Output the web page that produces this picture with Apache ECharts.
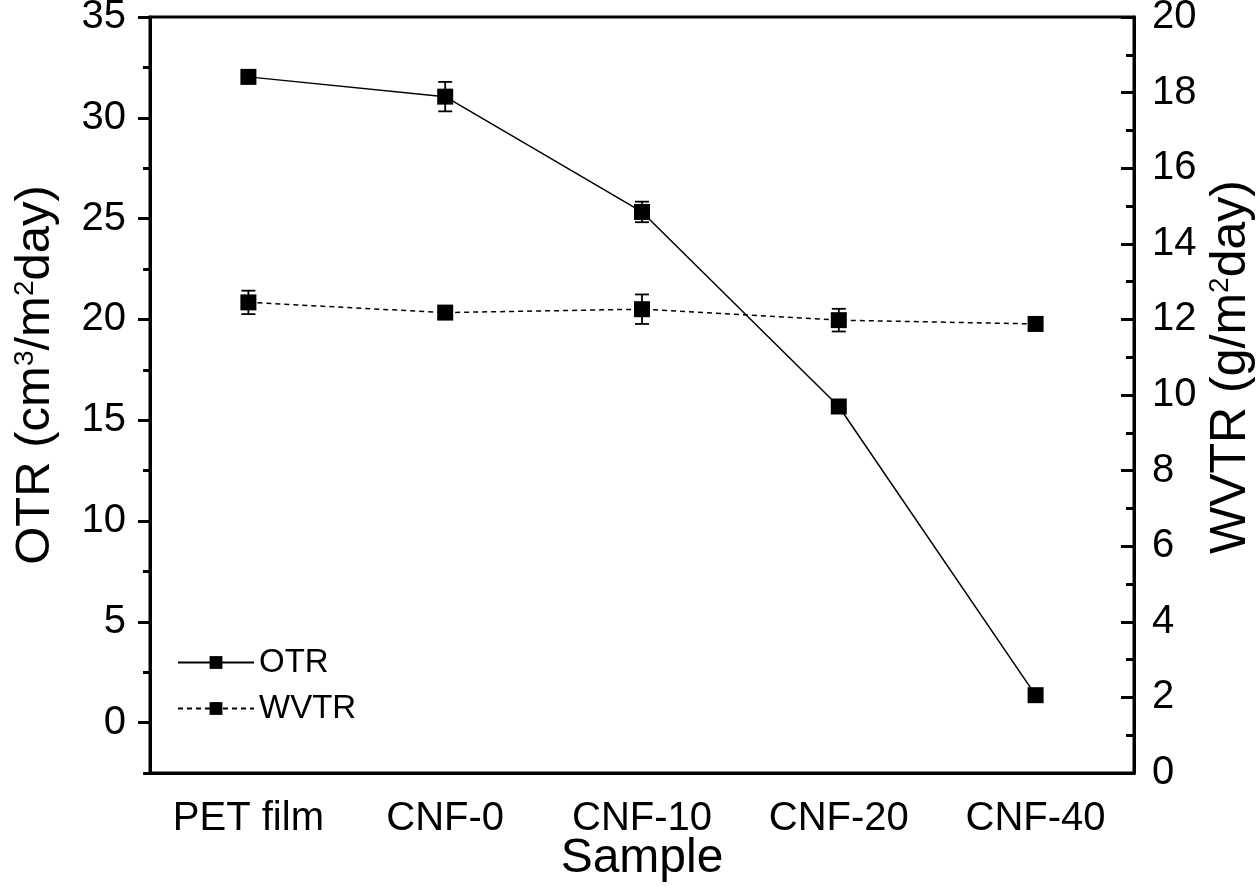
<!DOCTYPE html>
<html>
<head>
<meta charset="utf-8">
<script src="https://cdn.jsdelivr.net/npm/echarts@6/dist/echarts.min.js"></script>
<style>html,body{margin:0;padding:0;background:#fff}#c{width:1257px;height:886px}</style>
</head>
<body>
<div id="c"></div>
<script>
var categories = ['PET film', 'CNF-0', 'CNF-10', 'CNF-20', 'CNF-40'];
var otr = [32.03, 31.05, 25.33, 15.68, 1.36];
var otrErr = [0.1, 0.73, 0.51, 0.1, 0.1];
var wvtr = [12.45, 12.18, 12.27, 11.98, 11.88];
var wvtrErr = [0.31, 0.05, 0.39, 0.30, 0.05];
var leftMajor = [0, 5, 10, 15, 20, 25, 30, 35];
var leftMinor = [-2.5, 2.5, 7.5, 12.5, 17.5, 22.5, 27.5, 32.5];

var FONT = 'Liberation Sans, Arial, sans-serif';
var chart = echarts.init(document.getElementById('c'));

function errData(vals, errs) {
  return vals.map(function (v, i) { return [i, v - errs[i], v + errs[i]]; });
}
function errRender(params, api) {
  var x = api.value(0);
  var lo = api.coord([x, api.value(1)]);
  var hi = api.coord([x, api.value(2)]);
  var hw = 7;
  var st = { stroke: '#000', lineWidth: 1.8 };
  return { type: 'group', children: [
    { type: 'line', shape: { x1: lo[0], y1: lo[1], x2: hi[0], y2: hi[1] }, style: st },
    { type: 'line', shape: { x1: lo[0] - hw, y1: lo[1], x2: lo[0] + hw, y2: lo[1] }, style: st },
    { type: 'line', shape: { x1: hi[0] - hw, y1: hi[1], x2: hi[0] + hw, y2: hi[1] }, style: st }
  ]};
}
var nameRich = {
  sup: { fontFamily: FONT, fontSize: 28, color: '#000', verticalAlign: 'top', lineHeight: 14 }
};

chart.setOption({
  backgroundColor: '#fff',
  animation: false,
  grid: { left: 150, right: 123, top: 17, bottom: 113, outerBoundsMode: 'none', containLabel: false, show: true, borderColor: '#000', borderWidth: 3, backgroundColor: 'transparent' },
  legend: {
    orient: 'vertical', left: 172, top: 641, itemWidth: 76, itemHeight: 16, itemGap: 13,
    textStyle: { fontFamily: FONT, fontSize: 33, color: '#000' },
    data: ['OTR', 'WVTR']
  },
  xAxis: {
    type: 'category', data: categories, boundaryGap: true,
    axisLine: { onZero: false, lineStyle: { color: '#000', width: 3 } },
    axisTick: { alignWithLabel: true, length: 10, lineStyle: { width: 3, color: '#000' } },
    axisLabel: { fontFamily: FONT, fontSize: 40, color: '#000', margin: 26 },
    name: 'Sample', nameLocation: 'middle', nameGap: 62, nameMoveOverlap: false,
    nameTextStyle: { fontFamily: FONT, fontSize: 48, color: '#000' }
  },
  yAxis: [
    {
      type: 'value', position: 'left', min: -2.5, max: 35,
      splitLine: { show: false },
      axisLine: { show: true, onZero: false, lineStyle: { color: '#000', width: 3 } },
      axisTick: { show: true, length: 12, customValues: leftMajor, lineStyle: { width: 3, color: '#000' } },
      axisLabel: { fontFamily: FONT, fontSize: 40, color: '#000', margin: 24, customValues: leftMajor },
      name: 'OTR (cm{sup|3}/m{sup|2}day)', nameLocation: 'middle', nameGap: 90, nameRotate: 90, nameMoveOverlap: false,
      nameTextStyle: { fontFamily: FONT, fontSize: 49, color: '#000', lineHeight: 49, rich: nameRich, padding: [0, 0, 0, 40] }
    },
    {
      type: 'value', position: 'right', min: 0, max: 20, interval: 2,
      splitLine: { show: false },
      axisLine: { show: true, onZero: false, lineStyle: { color: '#000', width: 3 } },
      axisTick: { show: true, inside: true, length: 13, lineStyle: { width: 3, color: '#000' } },
      minorTick: { show: true, splitNumber: 2, length: 8, lineStyle: { width: 3, color: '#000' } },
      axisLabel: { fontFamily: FONT, fontSize: 40, color: '#000', margin: 18 },
      name: 'WVTR (g/m{sup|2}day)', nameLocation: 'middle', nameGap: 72, nameRotate: 90, nameMoveOverlap: false,
      nameTextStyle: { fontFamily: FONT, fontSize: 50, color: '#000', lineHeight: 50, rich: nameRich, padding: [0, 0, 0, 56] }
    },
    {
      type: 'value', position: 'left', min: -2.5, max: 35,
      splitLine: { show: false },
      axisLine: { show: false, onZero: false },
      axisTick: { show: true, length: 7, customValues: leftMinor, lineStyle: { width: 3, color: '#000' } },
      axisLabel: { show: false }
    }
  ],
  series: [
    {
      name: 'OTR', type: 'line', yAxisIndex: 0, data: otr,
      symbol: 'rect', symbolSize: 16,
      lineStyle: { color: '#000', width: 1.5, type: 'solid' },
      itemStyle: { color: '#000' }, z: 3
    },
    {
      name: 'WVTR', type: 'line', yAxisIndex: 1, data: wvtr,
      symbol: 'rect', symbolSize: 16,
      lineStyle: { color: '#000', width: 1.5, type: [5, 4] },
      itemStyle: { color: '#000' }, z: 3
    },
    { type: 'custom', yAxisIndex: 0, data: errData(otr, otrErr), renderItem: errRender, z: 4, encode: { x: 0, y: [1, 2] } },
    { type: 'custom', yAxisIndex: 1, data: errData(wvtr, wvtrErr), renderItem: errRender, z: 4, encode: { x: 0, y: [1, 2] } }
  ]
});
</script>
</body>
</html>
